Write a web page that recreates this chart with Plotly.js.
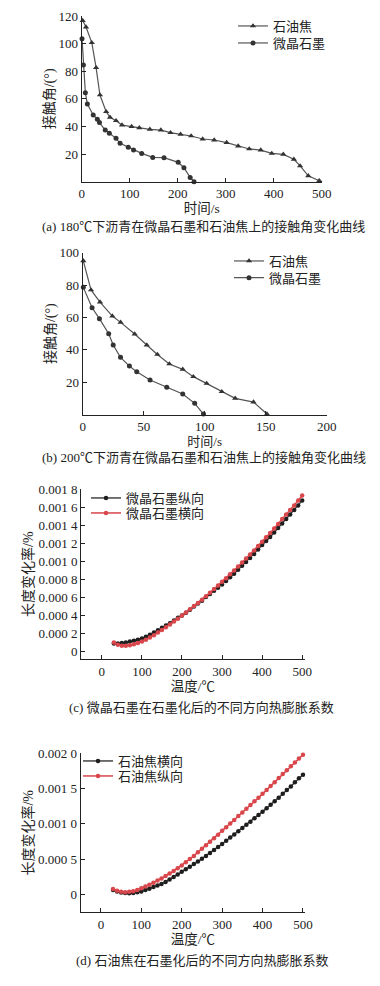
<!DOCTYPE html>
<html>
<head>
<meta charset="utf-8">
<script src="https://cdn.plot.ly/plotly-3.0.1.min.js"></script>
<style>
html,body{margin:0;padding:0;background:#fff;}
#chart{width:380px;height:986px;}
</style>
</head>
<body>
<div id="chart"></div>
<script>
// ---------- Data ----------
// (a) 180°C contact angle
const A_COKE_T = [2, 9, 21, 30, 38, 51, 59, 71.5, 84, 104, 120, 142, 165, 185, 206, 228, 252, 276, 302, 326, 349, 373, 396, 420, 442, 455, 472, 495];
const A_COKE_ANGLE = [116.7, 112, 100.7, 82.6, 62.8, 50.7, 46.6, 44.2, 41, 39.9, 39, 37.9, 37.4, 35.5, 34.3, 33.1, 30.9, 30.2, 28.3, 25.8, 23.7, 22.9, 20.5, 19.8, 16.2, 11.4, 4.3, 0.7];
const A_GRAPH_T = [0.7, 3.5, 7.6, 11.8, 24, 32.6, 37, 49, 57.6, 71.5, 80, 97, 108, 125, 148, 171.5, 201, 213, 226, 234];
const A_GRAPH_ANGLE = [103.6, 84.5, 64.5, 56.3, 48.3, 45.2, 42.8, 37.4, 35, 31.4, 27.8, 24.9, 22.9, 20.5, 17.6, 17.4, 14, 10.1, 3.1, 0];

// (b) 200°C contact angle
const B_COKE_T = [0.5, 6.8, 14.2, 24.3, 31.1, 42.6, 52.5, 61.2, 71, 82, 90.7, 101.6, 114, 125, 140, 151];
const B_COKE_ANGLE = [95, 77, 69.5, 60.9, 57, 49.8, 43, 37.2, 31.3, 28, 23.5, 19.3, 14.2, 10.1, 7.8, 0.4];
const B_GRAPH_T = [0.5, 7.7, 13.7, 21.3, 25, 31, 38.3, 44.3, 55.2, 68.9, 82, 91.8, 99];
const B_GRAPH_ANGLE = [78.6, 66, 59.3, 50, 43, 35.4, 30, 26.5, 21.4, 16.9, 12.8, 7, 0.4];

// (c)/(d) temperatures
const TEMP = [30, 40, 50, 60, 70, 80, 90, 100, 110, 120, 130, 140, 150, 160, 170, 180, 190, 200, 210, 220, 230, 240, 250, 260, 270, 280, 290, 300, 310, 320, 330, 340, 350, 360, 370, 380, 390, 400, 410, 420, 430, 440, 450, 460, 470, 480, 490, 500];

// (c) microcrystalline graphite
const C_LONG = [0.85e-4, 0.85e-4, 0.9e-4, 0.95e-4, 1.05e-4, 1.15e-4, 1.25e-4, 1.4e-4, 1.6e-4, 1.8e-4, 2.05e-4, 2.3e-4, 2.6e-4, 2.85e-4, 3.1e-4, 3.4e-4, 3.7e-4, 3.95e-4, 4.25e-4, 4.6e-4, 4.95e-4, 5.3e-4, 5.6e-4, 6.0e-4, 6.35e-4, 6.7e-4, 7.05e-4, 7.4e-4, 7.8e-4, 8.2e-4, 8.6e-4, 9.05e-4, 9.5e-4, 9.9e-4, 10.35e-4, 10.8e-4, 11.3e-4, 11.8e-4, 12.25e-4, 12.7e-4, 13.2e-4, 13.7e-4, 14.2e-4, 14.7e-4, 15.2e-4, 15.7e-4, 16.2e-4, 16.75e-4];
const C_TRANS = [0.95e-4, 0.7e-4, 0.6e-4, 0.6e-4, 0.65e-4, 0.75e-4, 0.88e-4, 1.05e-4, 1.25e-4, 1.5e-4, 1.75e-4, 2.05e-4, 2.35e-4, 2.65e-4, 2.95e-4, 3.3e-4, 3.6e-4, 3.95e-4, 4.3e-4, 4.65e-4, 5.0e-4, 5.35e-4, 5.7e-4, 6.1e-4, 6.5e-4, 6.9e-4, 7.3e-4, 7.7e-4, 8.1e-4, 8.55e-4, 8.95e-4, 9.4e-4, 9.85e-4, 10.3e-4, 10.75e-4, 11.2e-4, 11.7e-4, 12.15e-4, 12.65e-4, 13.15e-4, 13.65e-4, 14.15e-4, 14.7e-4, 15.2e-4, 15.7e-4, 16.2e-4, 16.75e-4, 17.3e-4];

// (d) petroleum coke
const D_TRANS = [0.6e-4, 0.4e-4, 0.25e-4, 0.18e-4, 0.15e-4, 0.2e-4, 0.28e-4, 0.4e-4, 0.6e-4, 0.8e-4, 1.05e-4, 1.25e-4, 1.45e-4, 1.75e-4, 2.1e-4, 2.45e-4, 2.8e-4, 3.2e-4, 3.55e-4, 3.9e-4, 4.3e-4, 4.65e-4, 5.05e-4, 5.45e-4, 5.85e-4, 6.3e-4, 6.7e-4, 7.15e-4, 7.6e-4, 8.05e-4, 8.5e-4, 8.95e-4, 9.4e-4, 9.85e-4, 10.3e-4, 10.8e-4, 11.25e-4, 11.7e-4, 12.2e-4, 12.7e-4, 13.2e-4, 13.7e-4, 14.25e-4, 14.8e-4, 15.3e-4, 15.9e-4, 16.45e-4, 16.95e-4];
const D_LONG = [0.75e-4, 0.5e-4, 0.35e-4, 0.3e-4, 0.35e-4, 0.45e-4, 0.62e-4, 0.85e-4, 1.1e-4, 1.35e-4, 1.65e-4, 1.95e-4, 2.25e-4, 2.6e-4, 2.95e-4, 3.3e-4, 3.7e-4, 4.1e-4, 4.55e-4, 5.0e-4, 5.45e-4, 5.95e-4, 6.45e-4, 6.95e-4, 7.45e-4, 7.95e-4, 8.45e-4, 9.0e-4, 9.5e-4, 10.05e-4, 10.55e-4, 11.1e-4, 11.6e-4, 12.15e-4, 12.65e-4, 13.2e-4, 13.7e-4, 14.25e-4, 14.8e-4, 15.35e-4, 15.9e-4, 16.5e-4, 17.05e-4, 17.6e-4, 18.15e-4, 18.7e-4, 19.25e-4, 19.8e-4];

// Tick labels
const A_X_TICKS = [0, 100, 200, 300, 400, 500];
const A_Y_TICKS = [20, 40, 60, 80, 100, 120];
const B_X_TICKS = [0, 50, 100, 150, 200];
const B_Y_TICKS = [20, 40, 60, 80, 100];
const CD_X_TICKS = [0, 100, 200, 300, 400, 500];
const C_Y_TICKVALS = [0, 0.0002, 0.0004, 0.0006, 0.0008, 0.0010, 0.0012, 0.0014, 0.0016, 0.0018];
const C_Y_TICKTEXT = ['0', '0.000 2', '0.000 4', '0.000 6', '0.000 8', '0.001 0', '0.001 2', '0.001 4', '0.001 6', '0.001 8'];
const D_Y_TICKVALS = [0, 0.0005, 0.0010, 0.0015, 0.0020];
const D_Y_TICKTEXT = ['0', '0.000 5', '0.001 0', '0.001 5', '0.002 0'];

// Text
const NAMES = {coke: '石油焦', graph: '微晶石墨', cLong: '微晶石墨纵向', cTrans: '微晶石墨横向', dTrans: '石油焦横向', dLong: '石油焦纵向'};
const CAPTIONS = [
  '(a) 180℃下沥青在微晶石墨和石油焦上的接触角变化曲线',
  '(b) 200℃下沥青在微晶石墨和石油焦上的接触角变化曲线',
  '(c) 微晶石墨在石墨化后的不同方向热膨胀系数',
  '(d) 石油焦在石墨化后的不同方向热膨胀系数'
];

// ---------- Layout helpers ----------
const W = 380, H = 986;
const px = v => v / W;
const py = v => 1 - v / H;
const FONT = 'Liberation Serif, Noto Sans CJK SC, serif';
const INK = '#222';

function xAxis(domain, range, ticks, anchor, title, standoff, tsize) {
  return {
    domain: domain, range: range, anchor: anchor, tickvals: ticks,
    showline: true, linecolor: INK, linewidth: 1, ticks: 'inside', ticklen: 4, tickcolor: INK,
    showgrid: false, zeroline: false, tickfont: {size: 13, color: INK, family: FONT},
    title: {text: title, font: {size: tsize, color: INK, family: FONT}, standoff: standoff}
  };
}
function yAxis(domain, range, vals, text, anchor, title, standoff) {
  const a = {
    domain: domain, range: range, anchor: anchor, tickvals: vals,
    showline: true, linecolor: INK, linewidth: 1, ticks: 'inside', ticklen: 4, tickcolor: INK,
    showgrid: false, zeroline: false, tickfont: {size: 13, color: INK, family: FONT},
    title: {text: title, font: {size: 14, color: INK, family: FONT}, standoff: standoff}
  };
  if (text) a.ticktext = text;
  return a;
}

const lineGray = '#555';
const markDark = '#333';
const RED = '#d9464b';

const traces = [
  {x: A_COKE_T, y: A_COKE_ANGLE, name: NAMES.coke, xaxis: 'x', yaxis: 'y', legend: 'legend',
   mode: 'lines+markers', line: {color: lineGray, width: 1.2}, marker: {symbol: 'triangle-up', size: 5.5, color: markDark}, cliponaxis: false},
  {x: A_GRAPH_T, y: A_GRAPH_ANGLE, name: NAMES.graph, xaxis: 'x', yaxis: 'y', legend: 'legend2',
   mode: 'lines+markers', line: {color: lineGray, width: 1.2}, marker: {symbol: 'circle', size: 5, color: markDark}, cliponaxis: false},
  {x: B_COKE_T, y: B_COKE_ANGLE, name: NAMES.coke, xaxis: 'x2', yaxis: 'y2', legend: 'legend3',
   mode: 'lines+markers', line: {color: lineGray, width: 1.2}, marker: {symbol: 'triangle-up', size: 5.5, color: markDark}, cliponaxis: false},
  {x: B_GRAPH_T, y: B_GRAPH_ANGLE, name: NAMES.graph, xaxis: 'x2', yaxis: 'y2', legend: 'legend4',
   mode: 'lines+markers', line: {color: lineGray, width: 1.2}, marker: {symbol: 'circle', size: 5, color: markDark}, cliponaxis: false},
  {x: TEMP, y: C_LONG, name: NAMES.cLong, xaxis: 'x3', yaxis: 'y3', legend: 'legend5',
   mode: 'lines+markers', line: {color: '#444', width: 1.5}, marker: {symbol: 'circle', size: 4.5, color: '#1e1e1e'}, cliponaxis: false},
  {x: TEMP, y: C_TRANS, name: NAMES.cTrans, xaxis: 'x3', yaxis: 'y3', legend: 'legend6',
   mode: 'lines+markers', line: {color: RED, width: 1.5}, marker: {symbol: 'circle', size: 4.5, color: RED}, cliponaxis: false},
  {x: TEMP, y: D_TRANS, name: NAMES.dTrans, xaxis: 'x4', yaxis: 'y4', legend: 'legend7',
   mode: 'lines+markers', line: {color: '#444', width: 1.5}, marker: {symbol: 'circle', size: 4.5, color: '#1e1e1e'}, cliponaxis: false},
  {x: TEMP, y: D_LONG, name: NAMES.dLong, xaxis: 'x4', yaxis: 'y4', legend: 'legend8',
   mode: 'lines+markers', line: {color: RED, width: 1.5}, marker: {symbol: 'circle', size: 4.5, color: RED}, cliponaxis: false}
];

function leg(xPix, yPix) {
  return {x: px(xPix), y: py(yPix), xanchor: 'left', yanchor: 'middle', bgcolor: 'rgba(0,0,0,0)', borderwidth: 0,
          font: {size: 13, color: INK, family: FONT}};
}

const layout = {
  width: W, height: H, margin: {l: 0, r: 0, t: 0, b: 0},
  paper_bgcolor: '#fff', plot_bgcolor: '#fff',
  font: {family: FONT, color: INK, size: 13},
  showlegend: true,
  xaxis: xAxis([px(81.7), px(321.7)], [0, 500], A_X_TICKS, 'y', '时间/s', 2, 13.5),
  yaxis: yAxis([py(181.7), py(16)], [0, 120], A_Y_TICKS, null, 'x', '接触角/(°)', 0),
  xaxis2: xAxis([px(82.7), px(326.7)], [0, 200], B_X_TICKS, 'y2', '时间/s', 0, 13),
  yaxis2: yAxis([py(414.7), py(252.7)], [0, 100], B_Y_TICKS, null, 'x2', '接触角/(°)', 0),
  xaxis3: xAxis([px(81), px(305)], [-52, 507], CD_X_TICKS, 'y3', '温度/℃', 3, 13.5),
  yaxis3: yAxis([py(659), py(489.3)], [-0.0000887, 0.0018], C_Y_TICKVALS, C_Y_TICKTEXT, 'x3', '长度变化率/%', 1),
  xaxis4: xAxis([px(80.7), px(305)], [-50, 505], CD_X_TICKS, 'y4', '温度/℃', 3, 13.5),
  yaxis4: yAxis([py(912.3), py(753.3)], [-0.000255, 0.002], D_Y_TICKVALS, D_Y_TICKTEXT, 'x4', '长度变化率/%', 1),
  legend: leg(233, 26),
  legend2: leg(233, 43),
  legend3: leg(229, 261),
  legend4: leg(229, 277.7),
  legend5: leg(86, 498),
  legend6: leg(86, 513),
  legend7: leg(78, 761),
  legend8: leg(78, 776),
  annotations: [
    {text: CAPTIONS[0], x: px(203.5), y: py(226)},
    {text: CAPTIONS[1], x: px(203.5), y: py(457)},
    {text: CAPTIONS[2], x: px(201.7), y: py(707.7)},
    {text: CAPTIONS[3], x: px(201.7), y: py(960)}
  ].map(a => Object.assign(a, {xref: 'paper', yref: 'paper', showarrow: false, xanchor: 'center', yanchor: 'middle',
                                font: {size: 13, color: INK, family: FONT}}))
};

Plotly.newPlot('chart', traces, layout, {staticPlot: true, displayModeBar: false});
</script>
</body>
</html>
